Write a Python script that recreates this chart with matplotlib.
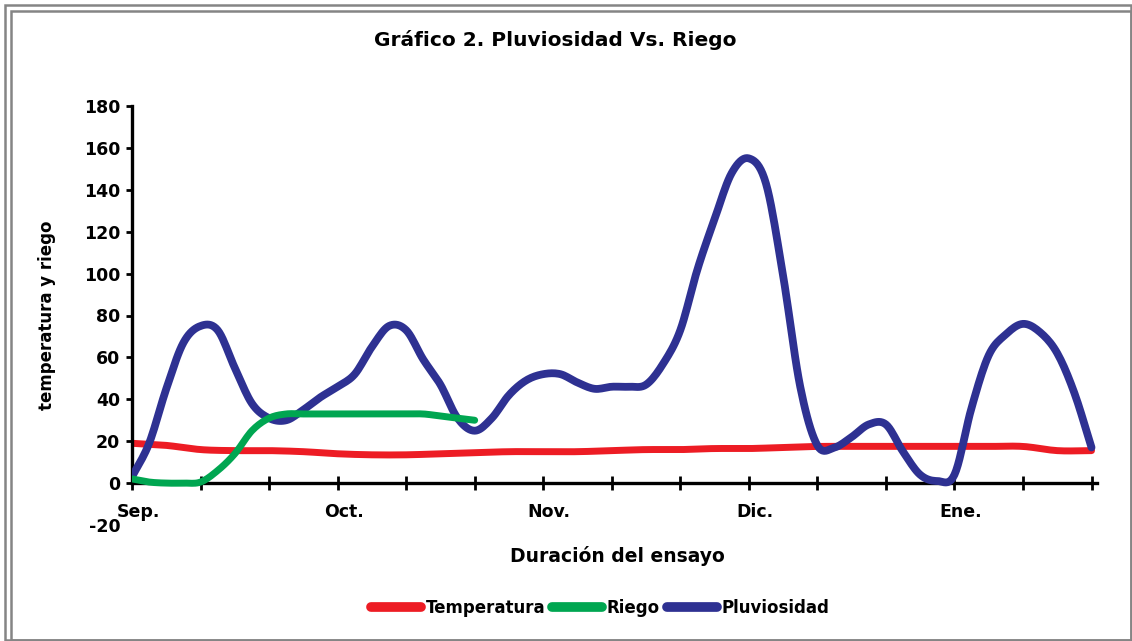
import numpy as np
import matplotlib
matplotlib.use("Agg")
import matplotlib.pyplot as plt
from matplotlib.patches import Rectangle
from matplotlib.transforms import ScaledTranslation

# Monthly labels on the category axis (a tick every 3 positions carries a label)
meses = ["Sep.", "Oct.", "Nov.", "Dic.", "Ene."]
n_ticks = 15

# Temperatura (paso de 0.5 posiciones)
temperatura = [19, 18, 16, 15.5, 15.5, 15, 14, 13.5, 13.5, 14, 14.5, 15, 15, 15,
               15.5, 16, 16, 16.5, 16.5, 17, 17.5, 17.5, 17.5, 17.5, 17.5, 17.5,
               17.5, 15.5, 15.5]

# Riego (paso de 0.25 posiciones)
riego = [2, 0.5, 0, 0, 0.5, 6, 14, 25, 31, 33, 33, 33, 33, 33, 33, 33, 33, 33,
         32, 31, 30]

# Pluviosidad (paso de 0.25 posiciones)
pluviosidad = [3, 19, 45, 67, 75, 73, 55, 38, 31, 30, 35, 41, 46, 52, 65, 75,
               73, 59, 47, 31, 25, 31, 42, 49, 52, 52, 48, 45, 46, 46, 47, 57,
               73, 102, 126, 148, 155, 143, 99, 46, 18, 17, 22, 28, 28, 15, 4,
               1, 4, 36, 61, 71, 76, 72, 62, 43, 17]

x_temp = np.arange(len(temperatura)) / 2
x_riego = np.arange(len(riego)) / 4
x_pluv = np.arange(len(pluviosidad)) / 4

rojo = "#ED1C24"
verde = "#00A651"
azul = "#2E3192"


def suavizar(x, y, n=10):
    """Smoothed line through every point (Catmull-Rom), like a spreadsheet 'smooth line'."""
    x = np.asarray(x, float)
    y = np.asarray(y, float)
    px = np.concatenate([[2 * x[0] - x[1]], x, [2 * x[-1] - x[-2]]])
    py = np.concatenate([[2 * y[0] - y[1]], y, [2 * y[-1] - y[-2]]])
    t = np.linspace(0, 1, n, endpoint=False)[:, None]
    xs, ys = [], []
    for p in (px, py):
        p0, p1, p2, p3 = p[:-3], p[1:-2], p[2:-1], p[3:]
        seg = 0.5 * (2 * p1 + (-p0 + p2) * t + (2 * p0 - 5 * p1 + 4 * p2 - p3) * t ** 2
                     + (-p0 + 3 * p1 - 3 * p2 + p3) * t ** 3)
        (xs if p is px else ys).append(np.concatenate([seg.T.ravel(), [p[-2]]]))
    return xs[0], ys[0]


plt.rcParams["font.family"] = "DejaVu Sans"
plt.rcParams["font.weight"] = "bold"
plt.rcParams["axes.unicode_minus"] = False

fig = plt.figure(figsize=(11.32, 6.41), dpi=100)
ax = fig.add_axes([132 / 1132, 1 - 525 / 641, 965 / 1132, 419 / 641])

ax.plot(*suavizar(x_temp, temperatura), color=rojo, lw=5.0, solid_capstyle="round",
        solid_joinstyle="round", label="Temperatura", zorder=2)
ax.plot(*suavizar(x_pluv, pluviosidad), color=azul, lw=5.6, solid_capstyle="round",
        solid_joinstyle="round", label="Pluviosidad", zorder=3)
ax.plot(*suavizar(x_riego, riego), color=verde, lw=5.0, solid_capstyle="round",
        solid_joinstyle="round", label="Riego", zorder=4)

ax.set_xlim(0, 14.08)
ax.set_ylim(-20, 180)

# axes: x axis crosses at zero, no box
for s in ["top", "right"]:
    ax.spines[s].set_visible(False)
ax.spines["bottom"].set_position(("data", 0))
ax.spines["bottom"].set_linewidth(2.4)
ax.spines["left"].set_linewidth(2.4)
ax.spines["left"].set_bounds(0, 180)

ax.set_yticks(np.arange(-20, 181, 20))
ax.tick_params(axis="y", direction="out", length=4.5, width=2, labelsize=12.5,
               pad=4)
ax.yaxis.get_major_ticks()[0].tick1line.set_visible(False)

ax.set_xticks(np.arange(n_ticks))
ax.set_xticklabels([meses[i // 3] if i % 3 == 0 else "" for i in range(n_ticks)])
ax.tick_params(axis="x", direction="inout", length=10, width=2, labelsize=12.5,
               pad=9)
shift = ScaledTranslation(6 / 100, 0, fig.dpi_scale_trans)
for lab in ax.get_xticklabels():
    lab.set_transform(lab.get_transform() + shift)

ax.set_ylabel("temperatura y riego", fontsize=12, fontweight="bold")
ax.yaxis.set_label_coords(-0.079, 0.5)
ax.set_xlabel("Duración del ensayo", fontsize=13.5, fontweight="bold")
ax.xaxis.set_label_coords(0.503, -0.05)

fig.text(555 / 1132, 1 - 40 / 641, "Gráfico 2. Pluviosidad Vs. Riego",
         ha="center", va="center", fontsize=14.5, fontweight="bold")

h, l = ax.get_legend_handles_labels()
order = [0, 2, 1]
leg = fig.legend([h[i] for i in order], [l[i] for i in order],
                 loc="center", bbox_to_anchor=(600 / 1132, 1 - 608 / 641),
                 ncol=3, frameon=False, fontsize=12, handlelength=3.0,
                 handletextpad=0.3, columnspacing=0.4)
for line in leg.get_lines():
    line.set_linewidth(7)

# double grey frame around the chart
for x0, y0, x1, y1 in [(5.3, 5.3, 1130.5, 640), (10.5, 10.5, 1130.5, 640)]:
    fig.add_artist(Rectangle((x0 / 1132, 1 - y1 / 641), (x1 - x0) / 1132,
                             (y1 - y0) / 641, transform=fig.transFigure,
                             fill=False, edgecolor="#858585", lw=1.8))

fig.savefig("out.png", dpi=100)
